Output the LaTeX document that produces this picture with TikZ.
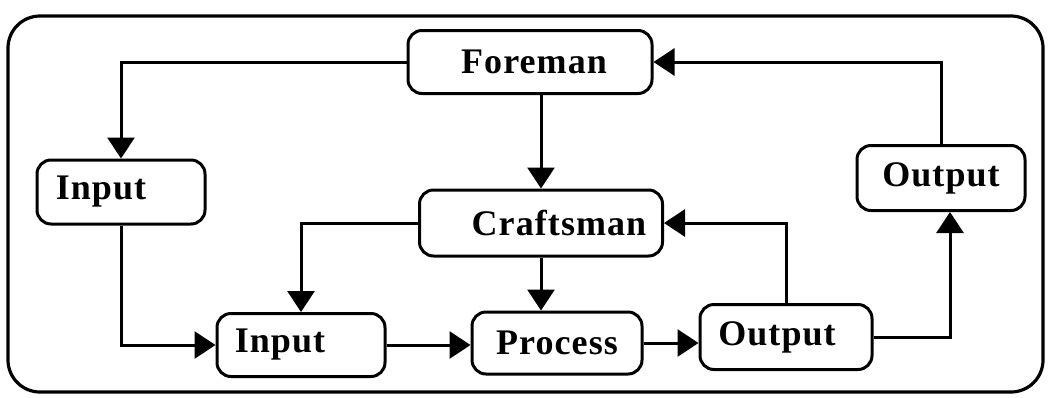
\documentclass[tikz,border=0pt]{standalone}
\usepackage{fontspec}
\setmainfont{Liberation Serif}
\usetikzlibrary{arrows.meta}
\begin{document}
\begin{tikzpicture}[x=1pt,y=-1pt,
  box/.style={draw, line width=3pt, rounded corners=14pt, inner sep=0pt, font=\fontsize{36}{40}\selectfont\bfseries\addfontfeature{LetterSpace=3}},
  conn/.style={line width=3pt},
  arr/.style={conn, -{Triangle[length=21pt,width=27pt]}}]
\useasboundingbox (0,0) rectangle (1049,397);
\draw[line width=3.2pt, rounded corners=32pt] (8,16) rectangle (1043,392);
\node[box, minimum width=244pt, minimum height=63pt] (fore) at (530,62) {\kern8pt Foreman};
\node[box, minimum width=168pt, minimum height=64pt] (in1) at (121,192) {Input\kern40pt};
\node[box, minimum width=243pt, minimum height=66pt] (craft) at (541,223) {\kern36pt Craftsman};
\node[box, minimum width=168pt, minimum height=65pt] (outR) at (941,178) {Output};
\node[box, minimum width=168pt, minimum height=63pt] (in2) at (301,345) {Input\kern42pt};
\node[box, minimum width=170pt, minimum height=62pt] (proc) at (557,343) {Process};
\node[box, minimum width=172pt, minimum height=65pt] (outB) at (786,337) {Output\kern18pt};
\coordinate (outRs) at ([xshift=9pt]outR.south);
\draw[arr] (fore.west) -| (in1.north);
\draw[arr] (fore.south -| craft.north) -- (craft.north);
\draw[arr] (craft.west) -| (in2.north);
\draw[arr] (craft.south) -- (craft.south |- proc.north);
\draw[arr] (in1.south) |- (in2.west);
\draw[arr] (in2.east) -- (in2.east -| proc.west);
\draw[arr] (proc.east) -- (proc.east -| outB.west);
\draw[arr] (outB.north) |- (craft.east);
\draw[arr] (outB.east) -| (outRs);
\draw[arr] (outR.north) |- (fore.east);
\end{tikzpicture}
\end{document}
